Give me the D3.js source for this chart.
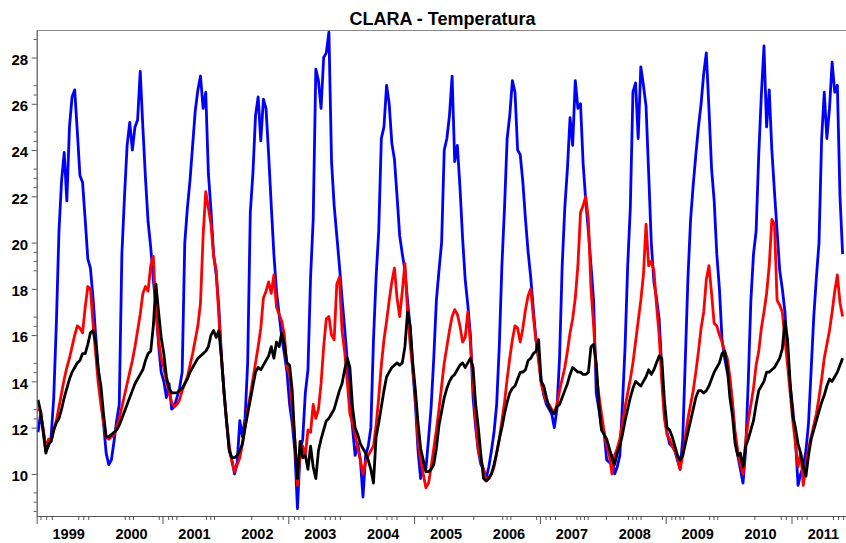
<!DOCTYPE html>
<html>
<head>
<meta charset="utf-8">
<script src="https://cdn.jsdelivr.net/npm/d3@7/dist/d3.min.js"></script>
<style>
body { margin: 0; background: #fff; }
svg { display: block; font-family: "Liberation Sans", Arial, sans-serif; }
</style>
</head>
<body>
<div id="chart"></div>
<script>
/*
 *  DATA BLOCK STARTS
 */
var years = [1999, 2000, 2001, 2002, 2003, 2004, 2005, 2006, 2007, 2008, 2009, 2010, 2011];
var samplesPerYear = 24;   // half-month readings, starting Jan 1999

var tempBlue = [
  11.8, 12.6, 11.9, 11.0, 11.2, 11.6, 13.3, 16.5, 20.5, 22.7, 23.9, 21.8, 25.0, 26.3, 26.6, 24.8, 22.9, 22.6, 21.0, 19.3, 18.9, 17.6, 16.0, 14.5,
  13.3, 12.2, 10.9, 10.4, 10.6, 11.4, 12.3, 13.0, 19.5, 22.0, 24.2, 25.2, 24.0, 25.0, 25.3, 27.4, 25.0, 22.8, 20.9, 19.8, 18.4, 17.2, 15.6, 14.4,
  14.0, 13.3, 13.9, 12.8, 12.9, 13.3, 13.7, 14.4, 20.0, 21.5, 22.7, 24.2, 25.7, 26.6, 27.2, 25.8, 26.5, 23.0, 21.4, 19.5, 18.6, 17.2, 15.1, 13.5,
  12.2, 11.0, 10.6, 10.0, 10.5, 12.3, 11.6, 12.4, 14.8, 21.3, 23.0, 25.5, 26.3, 24.4, 26.2, 25.8, 23.8, 21.6, 19.5, 17.9, 16.9, 15.9, 15.2, 14.4,
  13.0, 12.2, 11.0, 8.5, 11.0, 11.5, 13.5, 14.5, 18.5, 21.0, 27.5, 27.0, 25.8, 28.0, 28.2, 29.1, 23.5, 21.6, 20.3, 19.0, 17.6, 16.3, 14.9, 13.2,
  12.0, 10.8, 11.3, 10.6, 9.0, 10.8, 11.2, 12.0, 15.8, 18.5, 20.5, 24.5, 25.0, 26.8, 26.0, 24.3, 23.6, 22.0, 20.3, 19.5, 18.8, 17.5, 16.3, 14.5,
  13.0, 11.0, 9.8, 10.5, 10.2, 11.5, 12.9, 15.0, 17.5, 18.8, 20.0, 24.0, 24.5, 25.5, 27.2, 23.5, 24.2, 22.4, 20.2, 18.4, 17.3, 16.0, 13.3, 12.0,
  11.0, 10.4, 10.2, 9.8, 10.3, 11.0, 11.8, 13.0, 15.5, 19.0, 21.5, 24.5, 25.5, 27.0, 26.5, 24.0, 23.8, 22.6, 21.0, 19.6, 18.5, 17.1, 15.8, 15.0,
  14.0, 13.4, 13.0, 12.8, 12.6, 12.0, 12.8, 15.0, 19.0, 21.5, 23.2, 25.4, 24.2, 27.0, 25.8, 26.0, 23.4, 21.8, 20.5, 19.0, 17.5, 13.5, 12.8, 12.0,
  11.8, 10.6, 10.5, 10.8, 10.0, 10.3, 10.8, 13.0, 15.5, 19.0, 21.5, 26.5, 26.9, 24.5, 27.6, 26.8, 25.9, 23.0, 20.0, 18.3, 17.6, 16.7, 14.6, 12.6,
  11.8, 11.3, 11.2, 11.0, 10.6, 10.2, 11.5, 15.0, 18.5, 21.0, 22.5, 23.8, 25.0, 26.0, 27.3, 28.2, 25.8, 23.2, 21.8, 19.5, 18.0, 15.8, 15.0, 14.4,
  14.0, 13.0, 11.5, 10.8, 10.2, 9.6, 11.0, 14.0, 17.5, 19.5, 20.5, 23.8, 26.4, 28.5, 25.0, 26.6, 24.0, 22.2, 20.5, 18.8, 18.0, 17.0, 15.2, 13.8,
  12.8, 11.5, 9.5, 10.0, 10.3, 11.0, 12.2, 14.5, 16.8, 18.5, 20.0, 24.5, 26.5, 24.5, 25.8, 27.8, 26.5, 26.8, 22.0, 19.5
];

var tempRed = [
  12.8, 12.7, 11.9, 11.1, 11.5, 11.4, 11.9, 12.3, 12.9, 13.5, 14.1, 14.6, 15.0, 15.5, 16.0, 16.4, 16.3, 16.1, 17.2, 18.1, 18.0, 16.5, 15.2, 13.9,
  13.0, 12.2, 11.6, 11.5, 11.6, 11.7, 12.0, 12.4, 12.9, 13.4, 13.9, 14.4, 14.9, 15.5, 16.2, 16.9, 17.8, 18.1, 17.9, 19.0, 19.4, 17.0, 15.8, 15.0,
  14.6, 14.0, 13.5, 13.1, 12.9, 13.0, 13.2, 13.6, 13.9, 14.2, 14.7, 15.2, 15.8, 16.4, 17.4, 20.3, 22.2, 21.5, 20.8, 19.4, 18.8, 16.8, 15.0, 13.5,
  12.2, 11.2, 10.5, 10.1, 10.4, 10.7, 11.3, 12.0, 12.8, 13.4, 14.1, 14.8, 15.5, 16.3, 17.6, 17.9, 18.3, 17.8, 18.6, 17.2, 16.9, 16.6, 16.0, 14.6,
  14.3, 12.8, 11.5, 9.5, 10.8, 11.2, 10.8, 11.9, 11.8, 13.0, 12.4, 12.8, 13.9, 15.5, 16.7, 16.8, 16.0, 15.8, 18.2, 18.5, 16.2, 15.3, 14.0, 12.6,
  12.2, 11.7, 11.1, 10.6, 10.0, 10.5, 10.8, 11.0, 11.2, 12.1, 13.3, 14.7, 15.8, 16.6, 17.5, 18.3, 18.9, 17.6, 16.8, 17.9, 19.1, 17.0, 15.6, 14.5,
  13.4, 11.4, 10.6, 10.0, 9.4, 9.6, 10.3, 11.1, 11.9, 12.8, 13.8, 14.8, 15.5, 16.2, 16.8, 17.1, 16.9, 16.4, 15.7, 15.9, 17.0, 15.6, 13.9, 12.3,
  11.0, 10.6, 10.2, 9.7, 9.8, 10.0, 10.3, 10.9, 11.5, 12.3, 13.1, 14.1, 15.0, 15.8, 16.4, 16.3, 15.7, 16.3, 17.1, 17.7, 18.0, 16.8, 15.8, 14.9,
  13.9, 13.5, 13.1, 13.0, 12.8, 12.6, 13.0, 13.6, 14.1, 14.6, 15.3, 16.1, 16.7, 17.6, 19.0, 21.3, 21.6, 22.0, 21.0, 18.0, 16.4, 14.4, 13.4, 12.6,
  11.8, 11.2, 10.8, 10.0, 10.8, 11.1, 11.5, 12.2, 12.9, 13.5, 14.1, 14.8, 15.7, 16.6, 17.5, 18.6, 20.8, 19.0, 19.2, 18.8, 17.3, 16.0, 14.0, 12.4,
  11.7, 11.5, 11.2, 11.0, 10.7, 10.2, 10.8, 11.6, 12.4, 13.0, 13.6, 14.4, 15.3, 16.3, 17.0, 18.4, 19.0, 17.8, 16.5, 16.4, 16.0, 15.7, 15.3, 15.0,
  14.2, 13.0, 11.8, 11.0, 10.4, 10.0, 11.4, 12.3, 13.0, 13.7, 14.7, 15.3, 16.3, 17.0, 17.8, 19.0, 21.0, 20.8, 17.5, 17.3, 17.0, 15.8, 14.7, 13.5,
  12.3, 11.3, 10.3, 10.9, 9.5, 10.4, 11.1, 11.6, 12.1, 12.6, 13.3, 14.1, 15.0, 15.6, 16.2, 17.0, 17.9, 18.6, 17.4, 16.8
];

var tempBlack = [
  13.2, 12.7, 11.8, 10.9, 11.3, 11.4, 11.9, 12.2, 12.4, 12.8, 13.3, 13.7, 14.1, 14.4, 14.6, 14.8, 14.9, 15.2, 15.2, 15.6, 16.1, 16.2, 15.7, 14.5,
  13.8, 12.6, 11.6, 11.6, 11.7, 11.8, 11.9, 12.1, 12.4, 12.7, 13.0, 13.3, 13.6, 13.9, 14.1, 14.3, 14.5, 14.9, 15.2, 15.3, 16.4, 18.2, 17.0, 15.9,
  15.2, 14.2, 13.7, 13.5, 13.5, 13.5, 13.6, 13.7, 13.9, 14.1, 14.4, 14.6, 14.8, 15.0, 15.1, 15.2, 15.3, 15.5, 16.0, 16.2, 15.9, 16.2, 15.0, 13.5,
  12.2, 11.0, 10.7, 10.7, 10.8, 11.0, 11.3, 12.0, 12.6, 13.2, 13.8, 14.4, 14.6, 14.5, 14.7, 14.9, 15.1, 15.5, 15.0, 15.7, 15.5, 16.1, 15.6, 14.8,
  14.7, 13.6, 11.4, 9.8, 11.4, 10.7, 10.8, 10.2, 11.2, 10.3, 9.8, 11.0, 11.5, 11.9, 12.3, 12.4, 12.6, 12.8, 13.2, 13.6, 13.9, 14.5, 15.0, 14.6,
  12.9, 12.0, 11.7, 11.3, 11.1, 10.9, 10.6, 10.2, 9.6, 11.6, 12.2, 12.9, 13.6, 14.2, 14.4, 14.6, 14.7, 14.8, 14.7, 14.8, 15.5, 17.0, 16.4, 14.8,
  13.6, 12.2, 11.1, 10.6, 10.1, 10.1, 10.2, 10.4, 11.1, 12.1, 12.7, 13.3, 13.7, 14.0, 14.2, 14.3, 14.5, 14.7, 14.8, 14.6, 14.8, 15.0, 14.6, 13.0,
  12.0, 10.8, 9.8, 9.7, 9.8, 10.0, 10.4, 10.9, 11.5, 12.0, 12.6, 13.1, 13.5, 13.7, 13.8, 14.1, 14.4, 14.4, 14.5, 14.9, 15.0, 15.2, 15.3, 15.8,
  14.0, 13.8, 13.3, 12.9, 12.7, 12.6, 12.9, 13.0, 13.3, 13.6, 13.9, 14.3, 14.6, 14.5, 14.4, 14.4, 14.3, 14.3, 14.4, 15.5, 15.6, 14.8, 13.0, 11.9,
  11.7, 11.5, 11.1, 10.7, 10.4, 10.9, 11.2, 11.7, 12.3, 12.8, 13.3, 13.7, 14.0, 13.9, 13.8, 14.0, 14.2, 14.5, 14.3, 14.5, 14.8, 15.1, 15.0, 13.2,
  12.0, 11.9, 11.6, 11.2, 10.8, 10.6, 10.8, 11.3, 11.8, 12.3, 12.8, 13.3, 13.6, 13.6, 13.5, 13.6, 13.8, 14.1, 14.4, 14.6, 14.8, 15.2, 15.3, 14.6,
  13.3, 12.5, 11.3, 10.8, 10.9, 10.3, 11.2, 11.5, 11.9, 12.3, 13.0, 13.6, 13.8, 14.0, 14.4, 14.4, 14.5, 14.6, 14.8, 15.0, 15.4, 16.6, 15.8, 13.9,
  12.5, 12.0, 11.3, 10.9, 10.3, 9.9, 10.8, 11.5, 11.9, 12.3, 12.7, 13.1, 13.4, 13.8, 14.1, 14.0, 14.2, 14.4, 14.7, 15.0
];

var yTicks = [10, 12, 14, 16, 18, 20, 22, 24, 26, 28];
var yMinorTicks = [8.4, 8.8, 9.2, 12.4, 12.8, 14.4, 14.8, 16.4, 16.8, 18.8, 19.2, 19.6,
                   22.4, 22.8, 23.2, 24.4, 24.8, 26.4, 26.8, 28.8];
var xLongTicks = [1999, 2001, 2003, 2005, 2007, 2009, 2011];
var xMinorTicks = [1999.06, 1999.15, 1999.24, 1999.66, 1999.74, 1999.82,
                   2000.40, 2000.47, 2000.53, 2000.94,
                   2001.09, 2001.15, 2001.22, 2001.69, 2001.76, 2001.82,
                   2002.41, 2002.83, 2002.91, 2003.09, 2003.16, 2003.24,
                   2003.58, 2003.66, 2003.74, 2003.82, 2004.40, 2004.56, 2004.64, 2004.72,
                   2005.20, 2005.28, 2005.36, 2005.44, 2005.94,
                   2006.40, 2006.47, 2006.53, 2006.94, 2007.09, 2007.16, 2007.24,
                   2007.58, 2007.64, 2007.70, 2007.76, 2008.05,
                   2008.40, 2008.47, 2008.53, 2008.60, 2008.94,
                   2009.09, 2009.15, 2009.22, 2009.28, 2009.69, 2009.76, 2009.82,
                   2010.41, 2010.83, 2010.91, 2011.09, 2011.16, 2011.24,
                   2011.66, 2011.74, 2011.82];
/*
 *  DATA BLOCK ENDS
 */

var view_width = 846;
var view_height = 543;
var plot = {left: 36.7, top: 30, bottom: 516, yearWidth: 62.9};

var svg = d3.select('#chart')
    .append('svg')
        .attr('width', view_width)
        .attr('height', view_height);

var x_scale = d3.scaleLinear()
    .domain([years[0], years[years.length - 1] + 1])
    .range([plot.left, plot.left + years.length * plot.yearWidth]);

var y_scale = d3.scaleLinear()
    .domain([8.18, 29.19])
    .range([plot.bottom, plot.top]);

function sampleYear(i) {
    return years[0] + (i + 0.5) / samplesPerYear;
}

// top frame line
svg.append('line')
    .attr('x1', plot.left).attr('x2', view_width)
    .attr('y1', plot.top + 0.5).attr('y2', plot.top + 0.5)
    .attr('stroke', '#8a8a8a')
    .attr('stroke-width', 1);

var valueline = d3.line()
    .x(function(d, i) { return x_scale(sampleYear(i)); })
    .y(function(d) { return y_scale(d); });

[[tempBlue, '#0000ff'], [tempRed, '#ff0000'], [tempBlack, '#000000']].forEach(function(s) {
    svg.append('path')
        .datum(s[0])
        .attr('class', 'line')
        .attr('fill', 'none')
        .attr('stroke', s[1])
        .attr('stroke-width', 2.8)
        .attr('stroke-linejoin', 'round')
        .attr('d', valueline);
});

// y axis
var yAxis = svg.append('g')
    .attr('class', 'axis axis--y')
    .attr('transform', 'translate(' + plot.left + ',0)')
    .call(d3.axisLeft(y_scale)
        .tickValues(yTicks)
        .tickSize(5)
        .tickSizeOuter(0)
        .tickPadding(3.5)
        .tickFormat(d3.format('d')));
yAxis.select('.domain').attr('stroke', '#555').attr('stroke-width', 1.2);
yAxis.selectAll('.tick line').attr('stroke', '#555');
yAxis.selectAll('.tick text')
    .attr('dy', '0.45em')
    .style('font-size', '15px')
    .style('font-weight', 'bold')
    .attr('fill', '#000');

svg.append('g')
    .attr('class', 'axis axis--y-minor')
    .attr('transform', 'translate(' + plot.left + ',0)')
    .call(d3.axisLeft(y_scale).tickValues(yMinorTicks).tickSize(3).tickFormat(''))
    .call(function(g) {
        g.select('.domain').remove();
        g.selectAll('.tick line').attr('stroke', '#555');
    });

// x axis
var xAxis = svg.append('g')
    .attr('class', 'axis axis--x')
    .attr('transform', 'translate(0,' + plot.bottom + ')')
    .call(d3.axisBottom(x_scale)
        .tickValues(xLongTicks)
        .tickSize(8)
        .tickSizeOuter(0)
        .tickFormat(''));
xAxis.select('.domain').attr('stroke', '#555').attr('stroke-width', 1.2);
xAxis.selectAll('.tick line').attr('stroke', '#555');

svg.append('g')
    .attr('class', 'axis axis--x-minor')
    .attr('transform', 'translate(0,' + plot.bottom + ')')
    .call(d3.axisBottom(x_scale).tickValues(xMinorTicks).tickSize(4).tickFormat(''))
    .call(function(g) {
        g.select('.domain').remove();
        g.selectAll('.tick line').attr('stroke', '#555');
    });

svg.append('g')
    .attr('class', 'axis axis--x-labels')
    .attr('transform', 'translate(0,' + plot.bottom + ')')
    .call(d3.axisBottom(x_scale)
        .tickValues(years.map(function(y) { return y + 0.5; }))
        .tickSize(0)
        .tickPadding(13)
        .tickFormat(function(d) { return Math.floor(d); }))
    .call(function(g) {
        g.select('.domain').remove();
        g.selectAll('text')
            .style('font-size', '14.5px')
            .style('font-weight', 'bold')
            .attr('fill', '#000');
    });

// title
svg.append('text')
    .attr('x', 442.5)
    .attr('y', 25)
    .attr('text-anchor', 'middle')
    .style('font-size', '18px')
    .style('font-weight', 'bold')
    .text('CLARA - Temperatura');
</script>
</body>
</html>
